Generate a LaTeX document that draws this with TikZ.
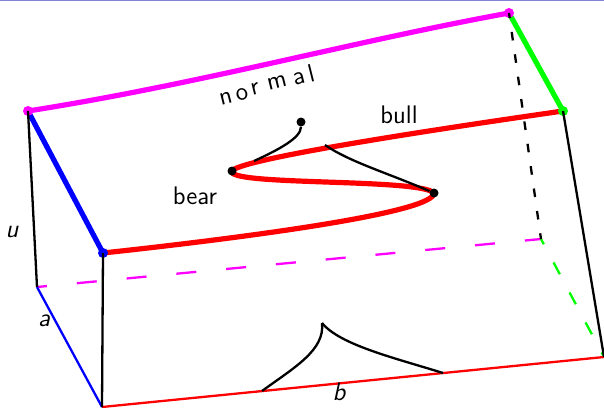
\documentclass[tikz,border=0pt]{standalone}
\usepackage{xcolor}
\usepackage{tikz}
\renewcommand{\familydefault}{\sfdefault}
\definecolor{mymagenta}{RGB}{255,0,255}
\definecolor{mygreen}{RGB}{0,255,0}
\definecolor{myframe}{RGB}{130,130,210}
\tikzset{
  dotnode/.style={circle, fill=black, inner sep=0pt, minimum size=4.5pt},
  thickedge/.style={line width=2.6pt},
  thinedge/.style={line width=1.15pt},
  lbl/.style={font=\fontsize{12.7}{15}\selectfont, inner sep=0pt},
  mathlbl/.style={lbl, font=\fontsize{12.7}{15}\selectfont\itshape}
}
\begin{document}
\begin{tikzpicture}[x=0.5pt, y=-0.5pt]
  \useasboundingbox (0,0) rectangle (604,407);
  \coordinate (frameL) at (0,0.5);
  \coordinate (frameR) at (604,0.5);
  \draw[myframe, line width=0.6pt] (frameL) -- (frameR);

  % Corners of the box
  \coordinate (backtopL) at (28,111);
  \coordinate (backtopR) at (509,13);
  \coordinate (fronttopL) at (103,253);
  \coordinate (fronttopR) at (563,111);
  \coordinate (backbotL) at (37,287);
  \coordinate (backbotR) at (541,239);
  \coordinate (frontbotL) at (102,407);
  \coordinate (frontbotR) at (604,357);
  \coordinate (bearpt) at (232,171);
  \coordinate (bullpt) at (434,193);

  % Floor of the box
  \draw[mymagenta, thinedge, dash pattern=on 10pt off 15pt, dash phase=5pt] (backbotL) -- (backbotR);
  \draw[mygreen, thinedge, dash pattern=on 6.7pt off 10.3pt, dash phase=3.7pt] (backbotR) -- (frontbotR);
  \draw[blue, thinedge] (backbotL) -- (frontbotL);
  \draw[red, thinedge] (frontbotL) -- (frontbotR);

  % Top surface
  \draw[mymagenta, thickedge] (backtopL) .. controls (200,84) and (350,42) .. (backtopR);
  \draw[blue, thickedge] (backtopL) -- (fronttopL);
  \draw[mygreen, thickedge] (backtopR) -- (fronttopR);
  \draw[red, thickedge] (fronttopL) .. controls (260,236) and (434,212) .. (bullpt)
    .. controls (420,178) and (226,186) .. (bearpt)
    .. controls (238,160) and (410,133) .. (fronttopR);

  % Corner dots
  \node[dotnode, fill=mymagenta, minimum size=5pt] (dotTL) at (backtopL) {};
  \node[dotnode, fill=mymagenta, minimum size=5pt] (dotTR) at (backtopR) {};
  \node[dotnode, fill=blue, minimum size=5pt] (dotFL) at (fronttopL) {};
  \node[dotnode, fill=mygreen, minimum size=5pt] (dotFR) at (fronttopR) {};

  % Vertical edges
  \draw[thinedge] (dotTL.center) -- (backbotL);
  \draw[thinedge] (dotFL.center) -- (frontbotL);
  \draw[thinedge] (dotFR.center) -- (frontbotR);
  \draw[thinedge, dash pattern=on 4.3pt off 7pt, dash phase=1.75pt] (dotTR.center) -- (backbotR);

  % Fold lines
  \node[dotnode] (cusptop) at (301,122) {};
  \node[dotnode] (beardot) at (bearpt) {};
  \node[dotnode] (bulldot) at (bullpt) {};
  \coordinate (foldA) at (254,161);
  \coordinate (foldB) at (325,145);
  \coordinate (cuspbot) at (322,323);
  \coordinate (footA) at (262,391);
  \coordinate (footB) at (443,373);
  \draw[thinedge] (cusptop) .. controls (301,138) and (278,150) .. (foldA);
  \draw[thinedge] (bulldot) .. controls (385,172) and (350,162) .. (foldB);
  \draw[thinedge] (cuspbot) .. controls (325,350) and (295,367) .. (footA);
  \draw[thinedge] (cuspbot) .. controls (340,345) and (395,358) .. (footB);

  % Labels
  \node[mathlbl] (ulbl) at (12,232) {u};
  \node[mathlbl] (albl) at (44,321) {a};
  \node[mathlbl] (blbl) at (339,392) {b};
  \node[lbl] (bearlbl) at (195,196) {bear};
  \node[lbl] (bulllbl) at (399,115) {bull};
  \foreach \ch/\xx/\yy in {n/226/98, o/242/94, r/255/89, m/277/83, a/299/79, l/311/73}
    \node[lbl, rotate=14] (normal\ch) at (\xx,\yy) {\ch};
\end{tikzpicture}
\end{document}
